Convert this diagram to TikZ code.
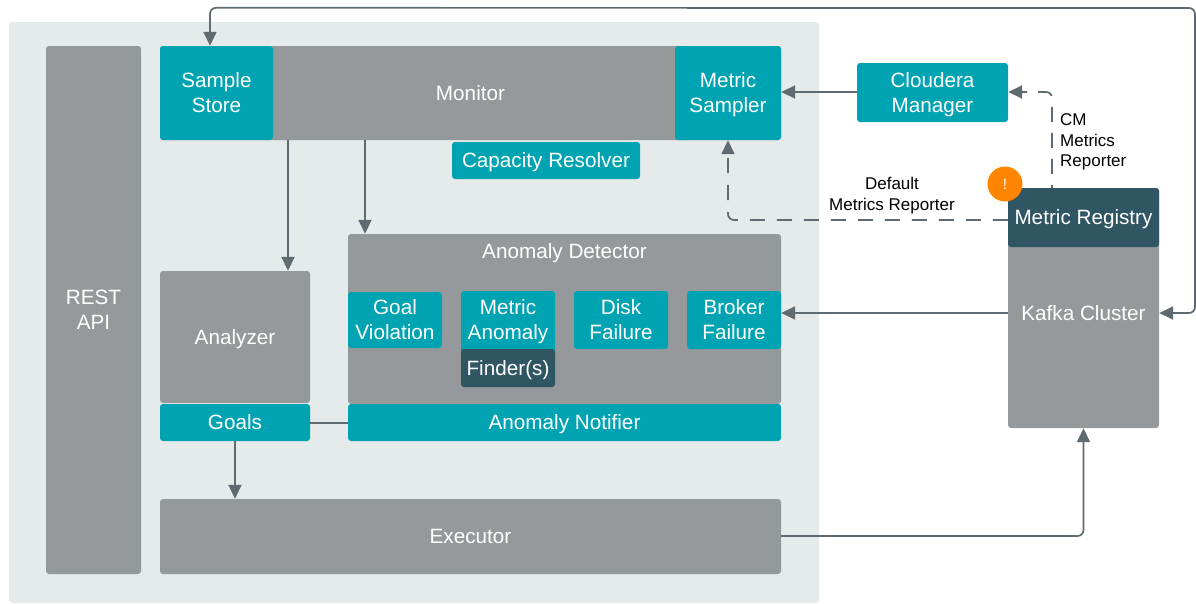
\documentclass[tikz,border=0pt]{standalone}
\usepackage{fontspec}
\setmainfont{Liberation Sans}
\usetikzlibrary{arrows.meta}
\definecolor{bgc}{HTML}{E5EAEA}
\definecolor{grayc}{HTML}{96999C}
\definecolor{tealc}{HTML}{00A3B1}
\definecolor{darkc}{HTML}{305563}
\definecolor{linec}{HTML}{5F6B70}
\definecolor{orangec}{HTML}{FF8400}
\newcommand{\st}{\rule[-5.5pt]{0pt}{25pt}}
\newcommand{\lst}{\rule[-4pt]{0pt}{20.5pt}}
\tikzset{
  x=1pt,y=-1pt,
  box/.style={rounded corners=3pt,inner sep=0pt,text=white,align=center,font=\fontsize{20.7}{25}\selectfont},
  graybox/.style={box,fill=grayc},
  tealbox/.style={box,fill=tealc},
  darkbox/.style={box,fill=darkc},
  conn/.style={draw=linec,line width=1.7pt,rounded corners=6pt},
  arr/.style={conn,-{Triangle[length=14pt,width=13pt]}},
  lbl/.style={inner sep=0pt,text=black,font=\fontsize{17}{20.5}\selectfont},
}
\newcommand{\bx}[7]{% style name x1 y1 x2 y2 text
  \pgfmathsetlengthmacro{\bw}{#5-#3}\pgfmathsetlengthmacro{\bh}{#6-#4}%
  \pgfmathsetmacro{\cx}{(#3+#5)/2}\pgfmathsetmacro{\cy}{(#4+#6)/2}%
  \node[#1,minimum width=\bw,minimum height=\bh] (#2) at (\cx,\cy) {#7};}
\begin{document}
\begin{tikzpicture}
\useasboundingbox (0,0) rectangle (1196,603);
\fill[white] (0,0) rectangle (1196,603);
\bx{box,fill=bgc}{bg}{9}{22}{819}{603}{}
\bx{graybox}{rest}{46}{46}{141}{574}{\st REST\\\st API}
\bx{graybox}{monitor}{160}{46}{781}{140}{\st Monitor}
\bx{tealbox}{store}{160}{46}{273}{140}{\st Sample\\\st Store}
\bx{tealbox}{sampler}{675}{46}{781}{140}{\st Metric\\\st Sampler}
\bx{tealbox}{capacity}{452}{142}{640}{179}{\st Capacity Resolver}
\bx{tealbox}{cloudera}{857}{63}{1008}{122}{\st Cloudera\\\st Manager}
\bx{graybox}{kafka}{1008}{188}{1159}{428}{}
\node[box] (kafkalabel) at (1083.5,313) {\st Kafka Cluster};
\bx{darkbox}{registry}{1008}{188}{1159}{247}{\st Metric Registry}
\bx{graybox}{detector}{348}{234}{781}{404}{}
\node[box] (detlabel) at (564.5,251) {\st Anomaly Detector};
\bx{tealbox}{goalv}{348}{292}{442}{348}{\st Goal\\\st Violation}
\bx{tealbox}{metricback}{461}{291}{555}{356}{}
\bx{box}{metrica}{461}{291}{555}{349}{\st Metric\\\st Anomaly}
\bx{tealbox}{disk}{574}{291}{668}{349}{\st Disk\\\st Failure}
\bx{tealbox}{broker}{687}{291}{781}{349}{\st Broker\\\st Failure}
\bx{darkbox}{finder}{461}{349}{555}{387}{\st Finder(s)}
\bx{tealbox}{notifier}{348}{404}{781}{441}{\st Anomaly Notifier}
\bx{graybox}{analyzer}{160}{271}{310}{403}{\st Analyzer}
\bx{tealbox}{goals}{160}{404}{310}{441}{\st Goals}
\bx{graybox}{executor}{160}{499}{781}{574}{\st Executor}
\node[circle,fill=orangec,minimum size=35pt,inner sep=0pt,text=white,font=\fontsize{15}{17}\selectfont] (alert) at (1005,184) {!};
\node[lbl,align=left,anchor=north west] (cmlabel) at (1060,109) {\lst CM\\\lst Metrics\\\lst Reporter};
\node[lbl,align=center] (deflabel) at (892,193.5) {\lst Default\\\lst Metrics Reporter};
% connectors
\draw[conn,{Triangle[length=14pt,width=13pt]}-{Triangle[length=14pt,width=13pt]}]
  ([xshift=-6.5pt]store.north) -- ++(0,-38) -- (1195,8) -- (1195,313) -- (kafka.east |- 0,313);
\draw[arr] (cloudera.west |- 0,92) -- (sampler.east |- 0,92);
\draw[arr,dash pattern=on 15pt off 11pt,dash phase=12pt] (registry.north -| 1052,0) -- (1052,92) -- (cloudera.east |- 0,92);
\draw[arr,dash pattern=on 15pt off 12pt] (registry.west |- 0,220) -- (728,220) -- (sampler.south -| 728,0);
\draw[arr] (monitor.south -| 288,0) -- (analyzer.north -| 288,0);
\draw[arr] (monitor.south -| 365,0) -- (detector.north -| 365,0);
\draw[arr] (kafka.west |- 0,313) -- (broker.east |- 0,313);
\draw[conn] (goals.east |- 0,423) -- (notifier.west |- 0,423);
\draw[arr] (goals.south) -- (goals.south |- executor.north);
\draw[arr] (executor.east |- 0,536) -- (kafka.south |- 0,536) -- (kafka.south);
\end{tikzpicture}
\end{document}
